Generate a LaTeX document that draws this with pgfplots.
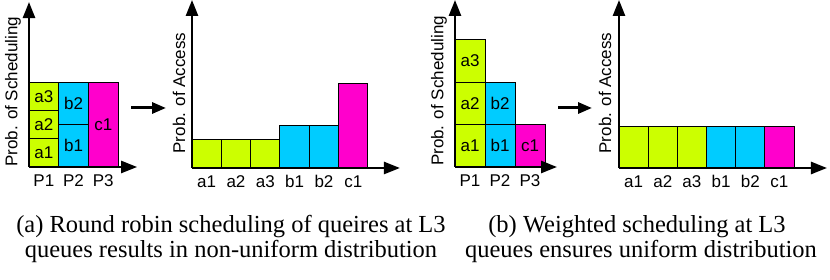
\documentclass[border=0pt]{standalone}
\usepackage{fontspec}
\setmainfont{Liberation Serif}
\newfontfamily\sansf{Liberation Sans}
\usepackage{pgfplots}
\pgfplotsset{compat=1.18}
\usetikzlibrary{arrows.meta}
\definecolor{cgreen}{HTML}{CCFF00}
\definecolor{cblue}{HTML}{00CCFF}
\definecolor{cmag}{HTML}{FF00CC}
\newcommand{\pf}{\sansf\fontsize{17}{20}\selectfont}
\tikzset{lab/.style={font=\pf}}
\pgfplotsset{
  panel/.style={
    axis lines=left,
    axis on top,
    axis line style={line width=2.5pt, -{Triangle[length=16pt,width=12pt]}},
    ytick=\empty,
    major tick length=0pt,
    xmin=0, ymin=0,
    y=255pt,
    clip=false,
    anchor=south west,
    tick label style={font=\pf},
    xticklabel style={yshift=-4pt},
    every axis y label/.style={at={([xshift=-16pt]rel axis cs:0,0.455)}, rotate=90, anchor=center, font=\pf},
  },
  blk/.style={ybar, bar width=1, bar shift=0pt, draw=black, line width=1pt},
}
\begin{document}
\begin{tikzpicture}[x=1pt,y=1pt]
\useasboundingbox (0pt,0pt) rectangle (830pt,280pt);
% Panel (a) left: scheduling
\begin{axis}[panel, at={(29pt,113pt)}, x=29.7pt, xmax=3.64, ymax=0.647,
  xtick={0.5,1.5,2.5}, xticklabels={P1,P2,P3}, ylabel={Prob. of Scheduling}]
\addplot[blk, fill=cgreen] coordinates {(0.5,0.333)};
\addplot[blk, fill=cgreen] coordinates {(0.5,0.222)};
\addplot[blk, fill=cgreen] coordinates {(0.5,0.111)};
\addplot[blk, fill=cblue] coordinates {(1.5,0.333)};
\addplot[blk, fill=cblue] coordinates {(1.5,0.167)};
\addplot[blk, fill=cmag] coordinates {(2.5,0.333)};
\node[lab] at (axis cs:0.5,0.0555) {a1};
\node[lab] at (axis cs:0.5,0.1667) {a2};
\node[lab] at (axis cs:0.5,0.2778) {a3};
\node[lab] at (axis cs:1.5,0.0833) {b1};
\node[lab] at (axis cs:1.5,0.25) {b2};
\node[lab] at (axis cs:2.5,0.1667) {c1};
\end{axis}
% Panel (a) right: access
\begin{axis}[panel, at={(192pt,112pt)}, x=29.33pt, xmax=7.09, ymax=0.659,
  xtick={0.5,1.5,2.5,3.5,4.5,5.5}, xticklabels={a1,a2,a3,b1,b2,c1}, ylabel={Prob. of Access},
  every axis y label/.style={at={([xshift=-13pt]rel axis cs:0,0.446)}, rotate=90, anchor=center, font=\pf}]
\addplot[blk, fill=cgreen] coordinates {(0.5,0.111) (1.5,0.111) (2.5,0.112)};
\addplot[blk, fill=cblue] coordinates {(3.5,0.167) (4.5,0.168)};
\addplot[blk, fill=cmag] coordinates {(5.5,0.333)};
\end{axis}
% Panel (b) left: scheduling
\begin{axis}[panel, at={(455pt,113pt)}, x=30pt, xmax=3.4, ymax=0.655,
  xtick={0.5,1.5,2.5}, xticklabels={P1,P2,P3}, ylabel={Prob. of Scheduling}]
\addplot[blk, fill=cgreen] coordinates {(0.5,0.5)};
\addplot[blk, fill=cgreen] coordinates {(0.5,0.333)};
\addplot[blk, fill=cgreen] coordinates {(0.5,0.167)};
\addplot[blk, fill=cblue] coordinates {(1.5,0.333)};
\addplot[blk, fill=cblue] coordinates {(1.5,0.167)};
\addplot[blk, fill=cmag] coordinates {(2.5,0.167)};
\node[lab] at (axis cs:0.5,0.0833) {a1};
\node[lab] at (axis cs:0.5,0.25) {a2};
\node[lab] at (axis cs:0.5,0.4167) {a3};
\node[lab] at (axis cs:1.5,0.0833) {b1};
\node[lab] at (axis cs:1.5,0.25) {b2};
\node[lab] at (axis cs:2.5,0.0833) {c1};
\end{axis}
% Panel (b) right: access
\begin{axis}[panel, at={(619pt,112pt)}, x=29.17pt, xmax=7.13, ymax=0.659,
  xtick={0.5,1.5,2.5,3.5,4.5,5.5}, xticklabels={a1,a2,a3,b1,b2,c1}, ylabel={Prob. of Access},
  every axis y label/.style={at={([xshift=-14pt]rel axis cs:0,0.446)}, rotate=90, anchor=center, font=\pf}]
\addplot[blk, fill=cgreen] coordinates {(0.5,0.163) (1.5,0.163) (2.5,0.163)};
\addplot[blk, fill=cblue] coordinates {(3.5,0.163) (4.5,0.163)};
\addplot[blk, fill=cmag] coordinates {(5.5,0.163)};
\end{axis}
% transition arrows
\draw[line width=3pt, -{Triangle[length=14pt,width=11pt]}] (131pt,172pt) -- (166pt,172pt);
\draw[line width=3pt, -{Triangle[length=14pt,width=11pt]}] (558pt,172pt) -- (592pt,172pt);
% captions
\begin{scope}[every node/.style={font=\fontsize{24.5}{25}\selectfont, anchor=base, inner sep=0pt}]
\node at (231pt,47.5pt) {(a) Round robin scheduling of queires at L3};
\node at (231pt,22.5pt) {queues results in non-uniform distribution};
\node at (637pt,47.5pt) {(b) Weighted scheduling at L3};
\node at (641pt,22.5pt) {queues ensures uniform distribution};
\end{scope}
\end{tikzpicture}
\end{document}
